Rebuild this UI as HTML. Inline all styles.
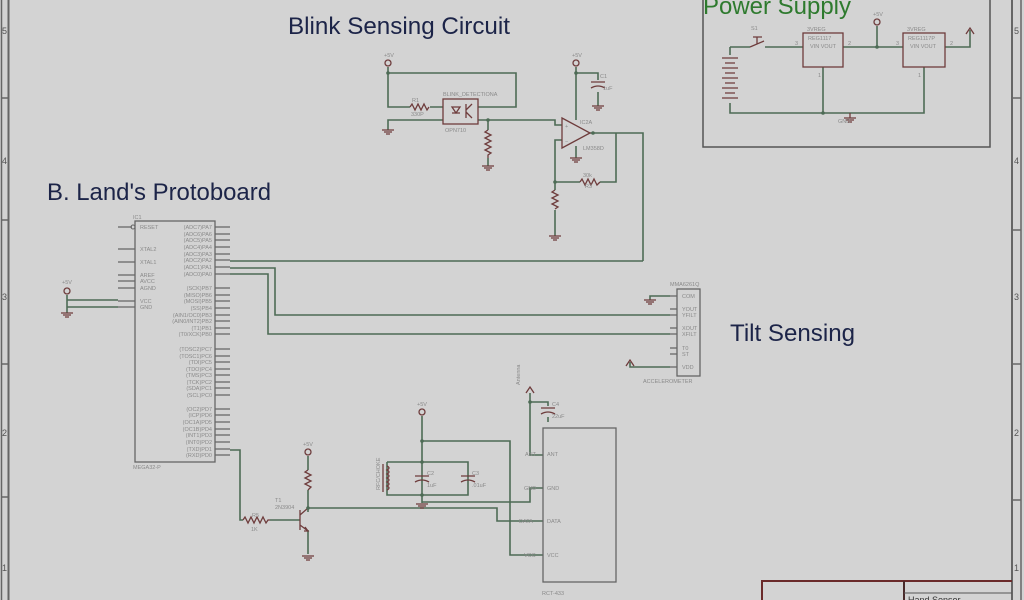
<!DOCTYPE html>
<html><head><meta charset="utf-8"><style>
html,body{margin:0;padding:0;background:#d3d3d3;}
svg{display:block;font-family:"Liberation Sans",sans-serif;}
.w{stroke:#4d6b55;stroke-width:1.6;fill:none}
.c{stroke:#6e3c3c;stroke-width:1.3;fill:none}
.f{stroke:#666;stroke-width:1.5;fill:none}
.t{fill:#8a8a8a;font-size:5.5px}
.s{fill:#8a8a8a;font-size:6.5px}
.h{fill:#1c2448;font-size:24px}
</style></head><body>
<svg width="1024" height="600" viewBox="0 0 1024 600">
<rect width="1024" height="600" fill="#d3d3d3"/>
<!-- frame -->
<line x1="1.5" y1="0" x2="1.5" y2="600" class="f"/>
<line x1="8.5" y1="0" x2="8.5" y2="600" class="f" style="stroke-width:2"/>
<line x1="1012" y1="0" x2="1012" y2="600" class="f" style="stroke-width:2"/>
<line x1="1021" y1="0" x2="1021" y2="600" class="f"/>
<g class="f"><line x1="1" y1="98" x2="8" y2="98"/><line x1="1" y1="220" x2="8" y2="220"/><line x1="1" y1="364" x2="8" y2="364"/><line x1="1" y1="497" x2="8" y2="497"/>
<line x1="1012" y1="98" x2="1021" y2="98"/><line x1="1012" y1="230" x2="1021" y2="230"/><line x1="1012" y1="364" x2="1021" y2="364"/><line x1="1012" y1="500" x2="1021" y2="500"/></g>
<g fill="#555" font-size="9px"><text x="2" y="34">5</text><text x="2" y="164">4</text><text x="2" y="300">3</text><text x="2" y="436">2</text><text x="2" y="571">1</text>
<text x="1014" y="34">5</text><text x="1014" y="164">4</text><text x="1014" y="300">3</text><text x="1014" y="436">2</text><text x="1014" y="571">1</text></g>
<!-- title block -->
<path d="M762 600 V581 H1012" stroke="#6a2a2a" stroke-width="2" fill="none"/>
<line x1="904" y1="581" x2="904" y2="600" stroke="#4a2a2a" stroke-width="2"/>
<line x1="904" y1="593" x2="1012" y2="593" stroke="#555" stroke-width="1"/>
<text x="908" y="603" fill="#333" font-size="9px">Hand Sensor</text>
<!-- titles -->
<text x="288" y="34" class="h" textLength="222" lengthAdjust="spacingAndGlyphs">Blink Sensing Circuit</text>
<text x="47" y="200" class="h" textLength="224" lengthAdjust="spacingAndGlyphs">B. Land's Protoboard</text>
<text x="730" y="341" class="h" textLength="125" lengthAdjust="spacingAndGlyphs">Tilt Sensing</text>
<text x="703" y="14" class="h" style="fill:#2e7a2e" textLength="148" lengthAdjust="spacingAndGlyphs">Power Supply</text>

<!-- power supply -->
<rect x="703" y="-2" width="287" height="149" fill="none" stroke="#555" stroke-width="1.5"/>
<g class="w">
<path d="M730 47 H750 M765 47 H803 M843 47 H903 M945 47 H970 V30"/>
<path d="M877 26 V47"/>
<path d="M730 47 V55 M730 103 V113 H924 V67 M823 67 V113"/>
</g>
<g class="c">
<path d="M750 47 L764 41 M757 44 V37 M753 37 H762"/>
<rect x="803" y="33" width="40" height="34"/><rect x="903" y="33" width="42" height="34"/>
<path d="M722 58 H738 M725 63 H735 M722 68 H738 M725 73 H735 M722 78 H738 M725 83 H735 M722 88 H738 M725 93 H735 M722 98 H738"/>
<path d="M850 113 V118 M844 118 H856 M846 120 H854 M848 122 H852"/>
<path d="M966 34 L970 28 L974 34"/>
</g>
<circle cx="877" cy="22" r="3" class="c"/><circle cx="877" cy="47" r="1.8" fill="#4d6b55"/><circle cx="823" cy="113" r="1.8" fill="#4d6b55"/>
<g class="t"><text x="751" y="30">S1</text><text x="807" y="31">3VREG</text><text x="808" y="40">REG1117</text><text x="810" y="48">VIN VOUT</text><text x="907" y="31">3VREG</text><text x="908" y="40">REG1117P</text><text x="910" y="48">VIN VOUT</text><text x="873" y="16">+5V</text><text x="795" y="45">3</text><text x="848" y="45">2</text><text x="896" y="45">3</text><text x="950" y="45">2</text><text x="818" y="77">1</text><text x="918" y="77">1</text><text x="838" y="123">GND</text></g>

<!-- blink circuit -->
<g class="w">
<path d="M388 67 V107 H410 M430 107 H443 M388 73 H516 V107 H478"/>
<path d="M443 120 H388 V130 M478 120 H555 V125 H562 M488 120 V130 M488 158 V166"/>
<path d="M576 67 V120 M576 73 H598 V80 M598 92 V106 M576 146 V158"/>
<path d="M590 133 H643 V261 M616 133 V182 H600 M580 182 H555 V140 H562 M555 182 V190 M555 210 V236"/>
</g>
<g class="c">
<circle cx="388" cy="63" r="3"/><circle cx="576" cy="63" r="3"/>
<path d="M410 107 l2 -3 l3 6 l3 -6 l3 6 l3 -6 l3 6 l2 -3"/>
<rect x="443" y="99" width="35" height="25"/>
<path d="M452 107 l4 6 l4 -6 z M452 113 H460 M466 104 V118 M466 110 L472 104 M466 112 L472 118"/>
<path d="M382 130 H394 M384 132 H392 M386 134 H390"/>
<path d="M488 130 l-3 2 l6 3 l-6 3 l6 3 l-6 3 l6 3 l-6 3 l6 3 l-3 2 V158"/>
<path d="M482 166 H494 M484 168 H492 M486 170 H490"/>
<path d="M562 118 L590 133 L562 148 Z"/>
<path d="M591 82 H605 M591 88 Q598 84 605 88"/>
<path d="M592 106 H604 M594 108 H602 M596 110 H600 M570 158 H582 M572 160 H580 M574 162 H578 M549 236 H561 M551 238 H559 M553 240 H557"/>
<path d="M580 182 l2 -3 l3 6 l3 -6 l3 6 l3 -6 l3 6 l3 -3"/>
<path d="M555 190 l-3 2 l6 3 l-6 3 l6 3 l-6 3 l6 3 l-3 2"/>
</g>
<circle cx="388" cy="73" r="1.8" fill="#4d6b55"/><circle cx="488" cy="120" r="1.8" fill="#4d6b55"/><circle cx="576" cy="73" r="1.8" fill="#4d6b55"/><circle cx="593" cy="133" r="1.8" fill="#4d6b55"/><circle cx="555" cy="182" r="1.8" fill="#4d6b55"/>
<g class="t"><text x="384" y="57">+5V</text><text x="572" y="57">+5V</text><text x="412" y="102">R1</text><text x="411" y="116">330P</text><text x="443" y="96">BLINK_DETECTIONA</text><text x="445" y="132">OPN710</text><text x="580" y="124">IC2A</text><text x="583" y="150">LM358D</text><text x="600" y="78">C1</text><text x="603" y="90">1uF</text><text x="583" y="177">30k</text><text x="585" y="188">R3</text><text x="565" y="128">+</text><text x="565" y="143">−</text></g>

<!-- IC1 -->
<rect x="135" y="221" width="80" height="241" class="c" style="stroke:#666"/>
<g stroke="#666" stroke-width="1.2">
<path d="M118 227 H132 M118 249 H135 M118 262 H135 M118 275 H135 M118 281 H135 M118 288 H135 M118 301 H135 M118 307 H135"/>
<path d="M215 227H230M215 234H230M215 240H230M215 247H230M215 254H230M215 260H230M215 267H230M215 274H230 M215 288H230M215 295H230M215 301H230M215 308H230M215 315H230M215 321H230M215 328H230M215 334H230 M215 349H230M215 356H230M215 362H230M215 369H230M215 375H230M215 382H230M215 388H230M215 395H230 M215 409H230M215 415H230M215 422H230M215 429H230M215 435H230M215 442H230M215 449H230M215 455H230"/>
</g>
<circle cx="133" cy="227" r="2" fill="none" stroke="#666"/>
<g class="t">
<text x="133" y="219">IC1</text><text x="133" y="469">MEGA32-P</text>
<text x="140" y="229">RESET</text><text x="140" y="251">XTAL2</text><text x="140" y="264">XTAL1</text><text x="140" y="277">AREF</text><text x="140" y="283">AVCC</text><text x="140" y="290">AGND</text><text x="140" y="303">VCC</text><text x="140" y="309">GND</text>
<g text-anchor="end">
<text x="212" y="229">(ADC7)PA7</text><text x="212" y="236">(ADC6)PA6</text><text x="212" y="242">(ADC5)PA5</text><text x="212" y="249">(ADC4)PA4</text><text x="212" y="256">(ADC3)PA3</text><text x="212" y="262">(ADC2)PA2</text><text x="212" y="269">(ADC1)PA1</text><text x="212" y="276">(ADC0)PA0</text>
<text x="212" y="290">(SCK)PB7</text><text x="212" y="297">(MISO)PB6</text><text x="212" y="303">(MOSI)PB5</text><text x="212" y="310">(SS)PB4</text><text x="212" y="317">(AIN1/OC0)PB3</text><text x="212" y="323">(AIN0/INT2)PB2</text><text x="212" y="330">(T1)PB1</text><text x="212" y="336">(T0/XCK)PB0</text>
<text x="212" y="351">(TOSC2)PC7</text><text x="212" y="358">(TOSC1)PC6</text><text x="212" y="364">(TDI)PC5</text><text x="212" y="371">(TDO)PC4</text><text x="212" y="377">(TMS)PC3</text><text x="212" y="384">(TCK)PC2</text><text x="212" y="390">(SDA)PC1</text><text x="212" y="397">(SCL)PC0</text>
<text x="212" y="411">(OC2)PD7</text><text x="212" y="417">(ICP)PD6</text><text x="212" y="424">(OC1A)PD5</text><text x="212" y="431">(OC1B)PD4</text><text x="212" y="437">(INT1)PD3</text><text x="212" y="444">(INT0)PD2</text><text x="212" y="451">(TXD)PD1</text><text x="212" y="457">(RXD)PD0</text>
</g></g>
<!-- left supply -->
<g class="w"><path d="M67 295 V300 H118 M67 307 H118 M67 300 V313"/></g>
<g class="c"><circle cx="67" cy="291" r="3"/><path d="M61 313 H73 M63 315 H71 M65 317 H69"/></g>
<text x="62" y="284" class="t">+5V</text>
<!-- wires to opamp/accel -->
<g class="w"><path d="M230 261 H643 M230 268 H275 V315 H670 M230 274 H268 V334 H670 M230 450 H240 V520 H243"/></g>

<!-- accelerometer -->
<rect x="677" y="289" width="23" height="87" class="c" style="stroke:#666"/>
<g stroke="#666" stroke-width="1.2"><path d="M670 296H677M670 309H677M670 315H677M670 328H677M670 334H677M670 348H677M670 354H677M670 367H677"/></g>
<g class="w"><path d="M670 296 H650 V300 M670 367 H630 V362"/></g>
<g class="c"><path d="M644 300 H656 M646 302 H654 M648 304 H652 M626 366 L630 360 L634 366"/></g>
<g class="t"><text x="670" y="286">MMA6261Q</text><text x="682" y="298">COM</text><text x="682" y="311">YOUT</text><text x="682" y="317">YFILT</text><text x="682" y="330">XOUT</text><text x="682" y="336">XFILT</text><text x="682" y="350">T0</text><text x="682" y="356">ST</text><text x="682" y="369">VDD</text><text x="643" y="383">ACCELEROMETER</text></g>

<!-- transistor section -->
<g class="w">
<path d="M270 520 H300 M308 456 V470 M308 490 V512 M308 530 V554"/>
<path d="M308 508 H497 V521 H543"/>
<path d="M422 416 V503 M422 441 H510 V555 H543 M387 462 H468 V495 H387 V462 M422 502 H530 V488 H543"/>
<path d="M530 393 V455 H543 M530 402 H548 V406 M548 417 V422"/>
</g>
<g class="c">
<path d="M243 520 l2 -3 l3 6 l3 -6 l3 6 l3 -6 l3 6 l3 -6 l3 6 l2 -3 H270"/>
<path d="M300 510 V530 M300 515 L308 508 M300 525 L308 531 M305 527 L308 531 L304 531"/>
<circle cx="308" cy="452" r="3"/><circle cx="422" cy="412" r="3"/>
<path d="M308 470 l-3 2 l6 3 l-6 3 l6 3 l-6 3 l6 3 l-3 3"/>
<path d="M302 556 H314 M304 558 H312 M306 560 H310 M416 504 H428 M418 506 H426 M420 508 H424"/>
<path d="M415 476 H429 M415 482 Q422 478 429 482 M461 476 H475 M461 482 Q468 478 475 482 M541 408 H555 M541 414 Q548 410 555 414"/>
<path d="M387 466 q4 2 0 4 q4 2 0 4 q4 2 0 4 q4 2 0 4 q4 2 0 4 q4 2 0 4 M383 464 V492"/>
<path d="M526 393 L530 387 L534 393"/>
<rect x="543" y="428" width="73" height="154" style="stroke:#666"/>
</g>
<circle cx="308" cy="508" r="1.8" fill="#4d6b55"/><circle cx="422" cy="441" r="1.8" fill="#4d6b55"/><circle cx="422" cy="462" r="1.8" fill="#4d6b55"/><circle cx="422" cy="495" r="1.8" fill="#4d6b55"/><circle cx="530" cy="402" r="1.8" fill="#4d6b55"/>
<g class="t"><text x="303" y="446">+5V</text><text x="417" y="406">+5V</text><text x="275" y="502">T1</text><text x="275" y="509">2N3904</text><text x="252" y="517">R5</text><text x="251" y="531">1K</text><text x="427" y="475">C2</text><text x="427" y="487">1uF</text><text x="472" y="475">C3</text><text x="472" y="487">.01uF</text><text x="552" y="406">C4</text><text x="552" y="418">22uF</text>
<text x="525" y="456">ANT</text><text x="524" y="490">GND</text><text x="519" y="523">DATA</text><text x="524" y="557">VCC</text>
<text x="547" y="456">ANT</text><text x="547" y="490">GND</text><text x="547" y="523">DATA</text><text x="547" y="557">VCC</text><text x="542" y="595">RCT-433</text>
<text x="520" y="385" transform="rotate(-90 520 385)">Antenna</text><text x="380" y="490" transform="rotate(-90 380 490)">RFC/CHOKE</text></g>
</svg>
</body></html>
